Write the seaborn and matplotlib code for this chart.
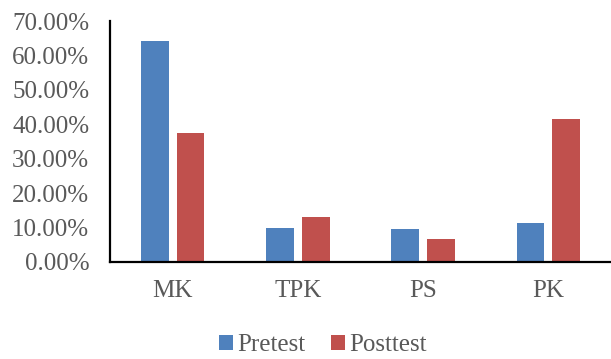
import matplotlib
matplotlib.use("Agg")
import matplotlib.pyplot as plt
import seaborn as sns
import pandas as pd
from matplotlib.patches import Patch
from matplotlib.ticker import FuncFormatter

categories = ["MK", "TPK", "PS", "PK"]
pretest = [0.643, 0.099, 0.096, 0.113]
posttest = [0.375, 0.132, 0.066, 0.416]
series = ["Pretest", "Posttest"]
colors = ["#4F81BD", "#C0504D"]
y_ticks = [0.0, 0.1, 0.2, 0.3, 0.4, 0.5, 0.6, 0.7]

df = pd.DataFrame({
    "category": categories * 2,
    "value": pretest + posttest,
    "series": [series[0]] * len(categories) + [series[1]] * len(categories),
})

sns.set_theme(style="white")
serif = ["Liberation Serif", "DejaVu Serif"]
plt.rcParams["font.family"] = serif
text_color = "#595959"
font_size = 18

fig = plt.figure(figsize=(6.11, 3.59), dpi=100)
ax = fig.add_axes([110 / 611, 1 - 262 / 359, 1 - 110 / 611, (262 - 21) / 359])

sns.barplot(data=df, x="category", y="value", hue="series", order=categories,
            hue_order=series, palette=colors, width=0.57, gap=0.22,
            saturation=1, legend=False, ax=ax, edgecolor="none")

ax.set_ylim(0, 0.7)
ax.set_xlim(-0.5, len(categories) - 0.5)
ax.set_yticks(y_ticks)
ax.yaxis.set_major_formatter(FuncFormatter(lambda v, _: f"{v * 100:.2f}%"))
ax.set_xlabel("")
ax.set_ylabel("")
ax.tick_params(axis="both", length=0, labelsize=font_size, colors=text_color)
ax.tick_params(axis="y", pad=15)
ax.tick_params(axis="x", pad=13)
for lbl in ax.get_xticklabels() + ax.get_yticklabels():
    lbl.set_family(serif)

for side in ["top", "right"]:
    ax.spines[side].set_visible(False)
for side in ["left", "bottom"]:
    ax.spines[side].set_color("black")
    ax.spines[side].set_linewidth(1.6)

handles = [Patch(facecolor=c, edgecolor="none", label=s) for s, c in zip(series, colors)]
fig.legend(handles=handles, loc="center", bbox_to_anchor=(323 / 611, 1 - 345 / 359),
           ncol=2, frameon=False, prop={"family": serif, "size": font_size},
           handlelength=0.55, handleheight=0.55, handletextpad=0.2,
           columnspacing=1.0, labelcolor=text_color)

fig.savefig("out.png", dpi=100)
